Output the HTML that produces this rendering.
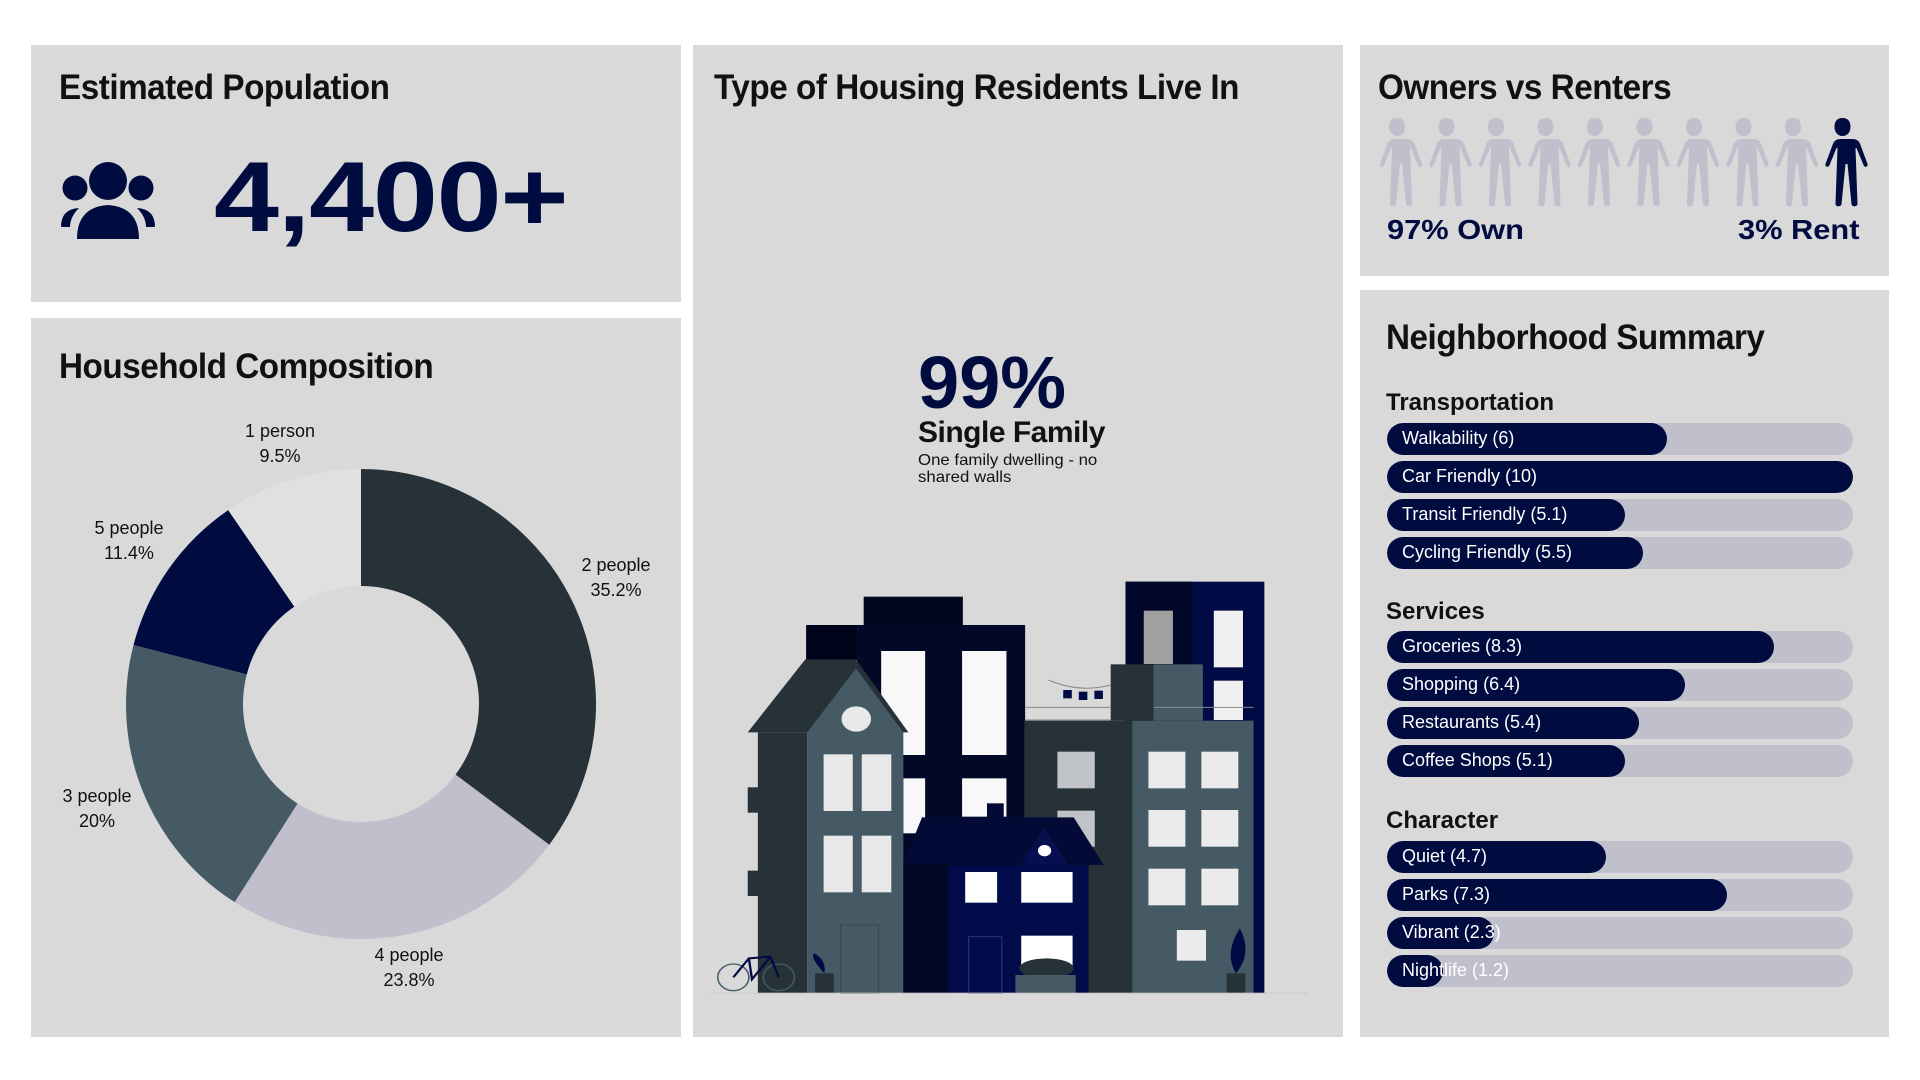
<!DOCTYPE html>
<html><head><meta charset="utf-8"><style>
*{margin:0;padding:0;box-sizing:border-box}
body{width:1920px;height:1080px;background:#fff;position:relative;overflow:hidden;font-family:"Liberation Sans",sans-serif;color:#000}
.p{position:absolute;background:#d9d9d9}
.t{position:absolute;font-weight:bold;font-size:35px;letter-spacing:-0.5px;color:#111;white-space:nowrap;transform:scaleX(0.95);transform-origin:left}
.lbl{position:absolute;font-size:18px;text-align:center;line-height:25px;color:#111;white-space:nowrap}
.sec{position:absolute;left:1386px;font-weight:bold;font-size:24px;color:#111}
.bar{position:absolute;left:1387px;width:466px;height:32px;border-radius:16px;background:#c0bfcc;overflow:hidden}
.bar i{position:absolute;left:0;top:0;bottom:0;background:#000b40;border-radius:16px}
.bar span{position:absolute;left:15px;top:5px;font-size:18px;color:#fff;white-space:nowrap}
.ow{position:absolute;top:214px;font-weight:bold;font-size:28px;color:#000b40;white-space:nowrap;transform:scaleX(1.1)}
</style></head><body>
<div class="p" style="left:31px;top:45px;width:650px;height:257px"></div>
<div class="p" style="left:31px;top:318px;width:650px;height:719px"></div>
<div class="p" style="left:693px;top:45px;width:650px;height:992px"></div>
<div class="p" style="left:1360px;top:45px;width:529px;height:231px"></div>
<div class="p" style="left:1360px;top:290px;width:529px;height:747px"></div>

<div class="t" style="left:59px;top:68px">Estimated Population</div>
<svg style="position:absolute;left:59px;top:162px" width="98" height="78" viewBox="0 0 98 78">
<g fill="#000b40"><circle cx="49" cy="19" r="19"/><circle cx="16" cy="26" r="12.5"/><circle cx="82" cy="26" r="12.5"/>
<path d="M18 77 Q18 45 49 43 Q80 45 80 77 Z"/><path d="M2 65 Q2 47 20 46 Q11 55 11 65Z"/><path d="M96 65 Q96 47 78 46 Q87 55 87 65Z"/></g></svg>
<div style="position:absolute;left:214px;top:140px;font-weight:bold;font-size:99px;color:#000b40;transform:scaleX(1.18);transform-origin:left;letter-spacing:-1px">4,400+</div>

<div class="t" style="left:59px;top:347px">Household Composition</div>
<svg style="position:absolute;left:0;top:0" width="700" height="1080">
<g transform="rotate(-90 361 704)" fill="none" stroke-width="117">
<circle cx="361" cy="704" r="176.5" stroke="#263238" stroke-dasharray="390.4 2000" stroke-dashoffset="0"/>
<circle cx="361" cy="704" r="176.5" stroke="#c1bfcc" stroke-dasharray="264 2000" stroke-dashoffset="-390.4"/>
<circle cx="361" cy="704" r="176.5" stroke="#455a64" stroke-dasharray="221.8 2000" stroke-dashoffset="-654.4"/>
<circle cx="361" cy="704" r="176.5" stroke="#000b40" stroke-dasharray="126.4 2000" stroke-dashoffset="-876.2"/>
<circle cx="361" cy="704" r="176.5" stroke="#e0e0e0" stroke-dasharray="106.6 2000" stroke-dashoffset="-1002.6"/>
</g></svg>
<div class="lbl" style="left:230px;top:419px;width:100px">1 person<br>9.5%</div>
<div class="lbl" style="left:566px;top:553px;width:100px">2 people<br>35.2%</div>
<div class="lbl" style="left:359px;top:943px;width:100px">4 people<br>23.8%</div>
<div class="lbl" style="left:47px;top:784px;width:100px">3 people<br>20%</div>
<div class="lbl" style="left:79px;top:516px;width:100px">5 people<br>11.4%</div>

<div class="t" style="left:714px;top:68px">Type of Housing Residents Live In</div>
<div style="position:absolute;left:918px;top:340px;font-weight:bold;font-size:74px;color:#000b40">99%</div>
<div style="position:absolute;left:918px;top:416px;font-weight:bold;font-size:30px;color:#111;letter-spacing:-0.5px">Single Family</div>
<div style="position:absolute;left:918px;top:452px;font-size:16px;line-height:17px;color:#111;transform:scaleX(1.05);transform-origin:left">One family dwelling - no<br>shared walls</div>

<svg style="position:absolute;left:710px;top:570px" width="610" height="430" viewBox="0 0 1568 1290" preserveAspectRatio="none">
<rect x="1068" y="35" width="357" height="1235" fill="#000b45"/><rect x="1068" y="35" width="172" height="1235" fill="#020829"/>
<rect x="1115" y="122" width="75" height="160" fill="#a0a0a0"/><rect x="1295" y="122" width="75" height="170" fill="#f0f0f0"/><rect x="1295" y="332" width="75" height="118" fill="#f0f0f0"/>
<rect x="395" y="80" width="255" height="90" fill="#01071f"/><rect x="378" y="165" width="432" height="1105" fill="#020827"/><rect x="247" y="165" width="131" height="105" fill="#00041a"/>
<g fill="#f8f8f8"><rect x="440" y="243" width="113" height="312"/><rect x="648" y="243" width="114" height="312"/><rect x="497" y="625" width="56" height="165"/><rect x="648" y="625" width="114" height="115"/></g>
<rect x="808" y="452" width="277" height="818" fill="#263238"/>
<rect x="893" y="545" width="96" height="110" fill="#c0c4c8"/><rect x="893" y="722" width="96" height="108" fill="#c0c4c8"/>
<rect x="1085" y="452" width="312" height="818" fill="#455a64"/><rect x="1030" y="283" width="110" height="169" fill="#263238"/><rect x="1140" y="283" width="127" height="169" fill="#455a64"/>
<g fill="#ebebeb"><rect x="1127" y="545" width="95" height="110"/><rect x="1263" y="545" width="95" height="110"/><rect x="1127" y="720" width="95" height="110"/><rect x="1263" y="720" width="95" height="110"/><rect x="1127" y="896" width="95" height="110"/><rect x="1263" y="896" width="95" height="110"/><rect x="1200" y="1080" width="75" height="92"/></g>
<g stroke="#888" stroke-width="3" fill="none"><path d="M810 412H1030M1140 412H1397M810 450H1030"/><path d="M870 330Q950 370 1030 345"/></g>
<g fill="#000b45"><rect x="908" y="360" width="22" height="25"/><rect x="948" y="365" width="22" height="25"/><rect x="988" y="362" width="22" height="25"/></g>
<polygon points="97,487 245,268 375,268 510,487" fill="#263238"/>
<rect x="123" y="487" width="127" height="783" fill="#263238"/><rect x="250" y="487" width="247" height="783" fill="#455a64"/>
<polygon points="250,487 375,295 497,487" fill="#455a64"/>
<rect x="97" y="652" width="93" height="76" fill="#263238"/><rect x="97" y="902" width="93" height="76" fill="#263238"/>
<circle cx="376" cy="447" r="38" fill="#e8e8e8"/>
<g fill="#e8e8e8"><rect x="292" y="553" width="75" height="170"/><rect x="390" y="553" width="76" height="170"/><rect x="292" y="797" width="75" height="170"/><rect x="390" y="797" width="76" height="170"/></g>
<rect x="336" y="1065" width="97" height="205" fill="#455a64" stroke="#37474f" stroke-width="3"/>
<polygon points="497,880 545,742 935,742 1012,885" fill="#020a35"/>
<rect x="712" y="700" width="43" height="115" fill="#020a35"/>
<rect x="497" y="880" width="115" height="390" fill="#020828"/><rect x="612" y="885" width="361" height="385" fill="#020c4a"/>
<polygon points="800,885 860,770 920,885" fill="#061050"/>
<circle cx="860" cy="842" r="17" fill="#fff"/>
<g fill="#fff"><rect x="656" y="906" width="82" height="92"/><rect x="800" y="906" width="132" height="92"/><rect x="800" y="1097" width="132" height="93"/></g>
<rect x="665" y="1100" width="85" height="170" fill="#020c4a" stroke="#2a3570" stroke-width="3"/>
<ellipse cx="865" cy="1195" rx="70" ry="30" fill="#263238"/><rect x="785" y="1215" width="155" height="55" fill="#455a64"/>
<g fill="none" stroke="#455a64" stroke-width="4"><circle cx="60" cy="1222" r="40"/><circle cx="177" cy="1222" r="40"/></g>
<path d="M60 1222L100 1165L155 1160L177 1222M100 1165L108 1228L155 1160" stroke="#000b45" stroke-width="6" fill="none"/>
<rect x="270" y="1210" width="48" height="60" fill="#263238"/><rect x="1328" y="1210" width="48" height="60" fill="#263238"/>
<path d="M1352 1210Q1320 1150 1362 1075Q1395 1150 1352 1210Z" fill="#000b45"/><path d="M294 1210Q255 1160 268 1150Q300 1170 294 1210Z" fill="#000b45"/>
<rect x="0" y="1268" width="1540" height="3" fill="#c8c8c8"/>
</svg>

<div class="t" style="left:1378px;top:68px">Owners vs Renters</div>
<svg style="position:absolute;left:1375px;top:118px" width="500" height="90" viewBox="0 0 500 90">
<defs><path id="pp" d="M22 0c6 0 8 4 8 9s-3 9-8 9-8-4-8-9 2-9 8-9zM12 21h20c5 0 7 3 8 6l7 19c1 3-3 4-4 1l-7-17-1 0 2 56c0 3-6 3-6 0l-4-40h-2l-4 40c0 3-6 3-6 0l2-56h-1l-7 17c-1 3-5 2-4-1l7-19c1-3 3-6 8-6z"/></defs>
<g fill="#c1bfcc"><use href="#pp" x="0"/><use href="#pp" x="49.5"/><use href="#pp" x="99"/><use href="#pp" x="148.5"/><use href="#pp" x="198"/><use href="#pp" x="247.5"/><use href="#pp" x="297"/><use href="#pp" x="346.5"/><use href="#pp" x="396"/></g>
<use href="#pp" x="445.5" fill="#000b40"/></svg>
<div class="ow" style="left:1387px;transform-origin:left">97% Own</div>
<div class="ow" style="right:61px;transform-origin:right">3% Rent</div>

<div class="t" style="left:1386px;top:318px">Neighborhood Summary</div>
<div class="sec" style="top:389px">Transportation</div>
<div class="bar" style="top:423px"><i style="width:60%"></i><span>Walkability (6)</span></div>
<div class="bar" style="top:461px"><i style="width:100%"></i><span>Car Friendly (10)</span></div>
<div class="bar" style="top:499px"><i style="width:51%"></i><span>Transit Friendly (5.1)</span></div>
<div class="bar" style="top:537px"><i style="width:55%"></i><span>Cycling Friendly (5.5)</span></div>
<div class="sec" style="top:598px">Services</div>
<div class="bar" style="top:631px"><i style="width:83%"></i><span>Groceries (8.3)</span></div>
<div class="bar" style="top:669px"><i style="width:64%"></i><span>Shopping (6.4)</span></div>
<div class="bar" style="top:707px"><i style="width:54%"></i><span>Restaurants (5.4)</span></div>
<div class="bar" style="top:745px"><i style="width:51%"></i><span>Coffee Shops (5.1)</span></div>
<div class="sec" style="top:807px">Character</div>
<div class="bar" style="top:841px"><i style="width:47%"></i><span>Quiet (4.7)</span></div>
<div class="bar" style="top:879px"><i style="width:73%"></i><span>Parks (7.3)</span></div>
<div class="bar" style="top:917px"><i style="width:23%"></i><span>Vibrant (2.3)</span></div>
<div class="bar" style="top:955px"><i style="width:12%"></i><span>Nightlife (1.2)</span></div>
</body></html>
